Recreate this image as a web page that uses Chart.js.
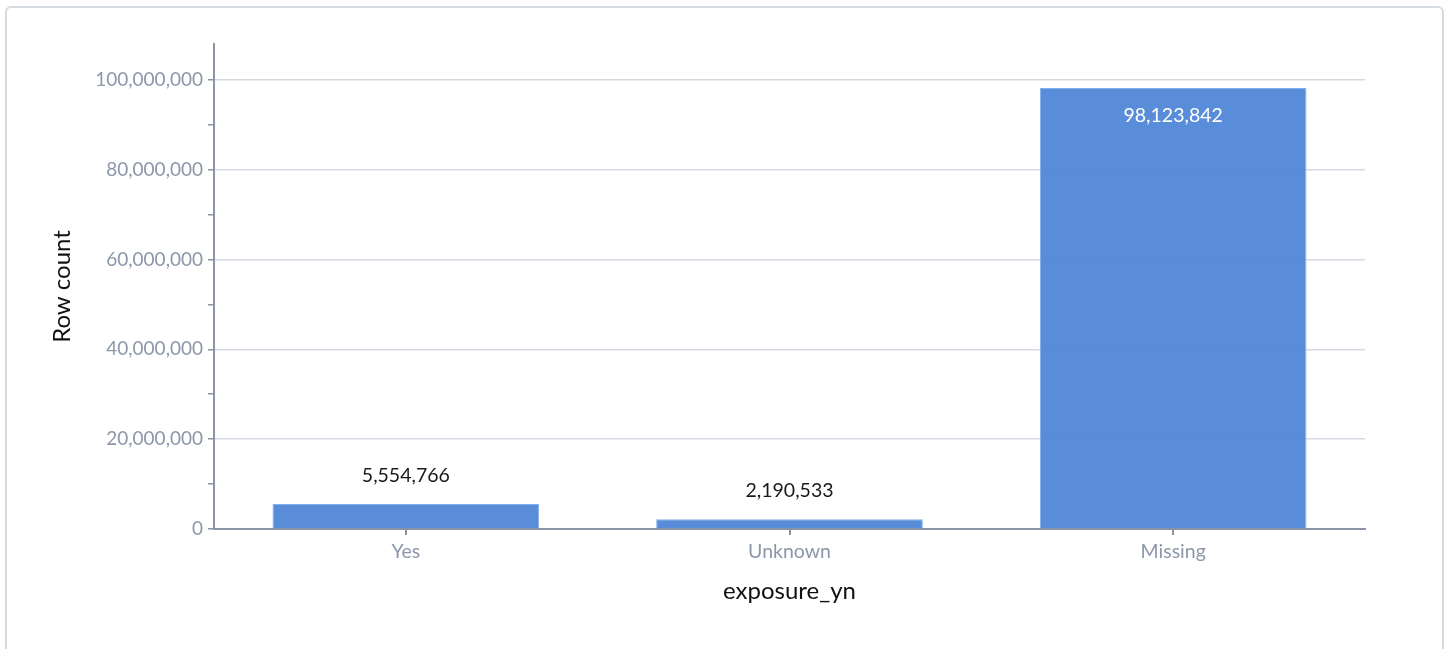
<!DOCTYPE html>
<html>
<head>
    <title>exposure_yn</title>
    <script src="https://cdn.jsdelivr.net/npm/chart.js"></script>
    <style>
        body { margin: 0; background: #fff; }
        #card { position: absolute; left: 5px; top: 6px; width: 1435px; height: 660px;
                border: 2px solid #d6dae1; border-radius: 6px; }
        #wrap { position: absolute; left: 0; top: 0; width: 1450px; height: 649px; }
    </style>
</head>
<body>
    <div id="card"></div>
    <div id="wrap"><canvas id="exposureChart" width="1450" height="649"></canvas></div>

    <script>
        const categories = ['Yes', 'Unknown', 'Missing'];
        const rowCounts = [5554766, 2190533, 98123842];
        // tick marks every 10M on the y axis, labels + gridlines every 20M
        const yTickValues = [0, 10000000, 20000000, 30000000, 40000000, 50000000,
                             60000000, 70000000, 80000000, 90000000, 100000000];
        const yLabelStep = 20000000;
        const axisTitleX = 'exposure_yn';
        const axisTitleY = 'Row count';

        const fontFamily = '"Source Sans Pro", Lato, "Noto Sans", sans-serif';
        const tickGrey = '#8d97aa';
        const axisGrey = '#8b95a5';

        // value labels above (or inside) each bar
        const barLabels = {
            id: 'barLabels',
            afterDatasetsDraw(chart) {
                const ctx = chart.ctx;
                const meta = chart.getDatasetMeta(0);
                ctx.save();
                ctx.font = '19.5px ' + fontFamily;
                ctx.textAlign = 'center';
                ctx.textBaseline = 'middle';
                meta.data.forEach((bar, i) => {
                    const text = rowCounts[i].toLocaleString('en-US');
                    const h = bar.base - bar.y;
                    if (h > 60) {
                        ctx.fillStyle = '#ffffff';
                        ctx.fillText(text, bar.x, bar.y + 28);
                    } else {
                        ctx.fillStyle = '#1a1a1a';
                        ctx.fillText(text, bar.x, bar.y - 28);
                    }
                });
                ctx.restore();
            }
        };

        new Chart(document.getElementById('exposureChart'), {
            type: 'bar',
            data: {
                labels: categories,
                datasets: [{
                    label: axisTitleY,
                    data: rowCounts,
                    backgroundColor: 'rgba(76, 131, 214, 0.92)',
                    borderColor: 'rgba(130, 175, 240, 1)',
                    borderWidth: 1,
                    categoryPercentage: 1,
                    barPercentage: 0.695
                }]
            },
            options: {
                responsive: false,
                animation: false,
                layout: { padding: { top: 44, right: 85, left: 0, bottom: 0 } },
                plugins: { legend: { display: false }, tooltip: { enabled: false } },
                scales: {
                    x: {
                        afterFit(scale) { scale.height = 120; },
                        grid: { display: true, offset: false, drawOnChartArea: false, color: axisGrey, tickLength: 6, lineWidth: 2 },
                        border: { color: axisGrey, width: 2 },
                        ticks: { color: tickGrey, padding: 5, font: { family: fontFamily, size: 19.5 } },
                        title: { display: true, text: axisTitleX, color: '#111',
                                 font: { family: fontFamily, size: 24 }, padding: { bottom: 43, top: 0 } }
                    },
                    y: {
                        min: 0,
                        max: Math.max(...rowCounts) * 1.1,
                        afterFit(scale) { scale.width = 214; },
                        afterBuildTicks(scale) {
                            scale.ticks = yTickValues.map(v => ({ value: v }));
                        },
                        border: { color: axisGrey, width: 2 },
                        grid: {
                            color: c => (c.tick && c.tick.value % yLabelStep === 0) ? '#d5dae2' : 'rgba(0,0,0,0)',
                            tickColor: axisGrey,
                            tickLength: 6,
                            lineWidth: 1.5
                        },
                        ticks: {
                            color: tickGrey,
                            padding: 5,
                            autoSkip: false,
                            font: { family: fontFamily, size: 19 },
                            callback: v => v % yLabelStep === 0 ? v.toLocaleString('en-US') : ''
                        },
                        title: { display: true, text: axisTitleY, color: '#111',
                                 font: { family: fontFamily, size: 24 }, padding: { top: 48, bottom: 0 } }
                    }
                }
            },
            plugins: [barLabels]
        });
    </script>
</body>
</html>
